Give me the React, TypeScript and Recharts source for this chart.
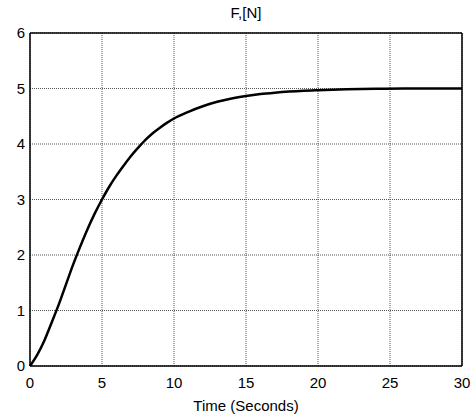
import React from "react";
import { LineChart, Line, XAxis, YAxis, CartesianGrid, ReferenceLine } from "recharts";

const timeSeconds = [0, 0.5, 1, 1.5, 2, 2.5, 3, 3.5, 4, 4.5, 5, 5.5, 6, 6.5, 7, 7.5, 8, 8.5, 9, 9.5, 10, 11, 12, 13, 14, 15, 16, 17, 18, 19, 20, 22, 24, 26, 28, 30];
const forceN = [0, 0.2, 0.46, 0.78, 1.11, 1.47, 1.83, 2.16, 2.47, 2.75, 3.0, 3.23, 3.43, 3.61, 3.78, 3.93, 4.07, 4.19, 4.29, 4.38, 4.46, 4.58, 4.68, 4.76, 4.82, 4.865, 4.9, 4.925, 4.945, 4.96, 4.97, 4.985, 4.995, 5.0, 5.0, 5.0];
const xTicks = [0, 5, 10, 15, 20, 25, 30];
const yTicks = [0, 1, 2, 3, 4, 5, 6];
const titleText = "F,[N]";
const xLabelText = "Time (Seconds)";

const data = timeSeconds.map((t, i) => ({ t, f: forceN[i] }));

const font = "'Liberation Sans', Arial, Helvetica, sans-serif";

export default function App() {
  return (
    <div style={{ position: "absolute", left: 0, top: 0, width: 476, height: 419, background: "#fff", fontFamily: font }}>
      <LineChart width={476} height={419} data={data} margin={{ top: 33, right: 14, left: 0, bottom: 0 }}>
        <CartesianGrid stroke="#555" strokeDasharray="1 1" strokeWidth={1} />
        <XAxis
          dataKey="t"
          type="number"
          domain={[0, 30]}
          ticks={xTicks}
          height={53}
          tickLine={false}
          tickSize={0}
          tickMargin={11}
          axisLine={{ stroke: "#000", strokeWidth: 1.5 }}
          tick={{ fill: "#000", fontSize: 15, fontFamily: font }}
          interval={0}
        />
        <YAxis
          type="number"
          domain={[0, 6]}
          ticks={yTicks}
          width={30}
          tickLine={false}
          tickSize={0}
          tickMargin={5}
          axisLine={{ stroke: "#000", strokeWidth: 1.5 }}
          tick={{ fill: "#000", fontSize: 15, fontFamily: font }}
          interval={0}
        />
        <ReferenceLine y={6} stroke="#000" strokeWidth={1.5} />
        <ReferenceLine x={30} stroke="#000" strokeWidth={1.5} />
        <Line dataKey="f" type="monotone" stroke="#000" strokeWidth={2.5} dot={false} isAnimationActive={false} />
      </LineChart>
      <div style={{ position: "absolute", left: 30, width: 432, top: 4, textAlign: "center", fontSize: 15, color: "#000" }}>{titleText}</div>
      <div style={{ position: "absolute", left: 30, width: 432, top: 397, textAlign: "center", fontSize: 15, color: "#000" }}>{xLabelText}</div>
    </div>
  );
}
